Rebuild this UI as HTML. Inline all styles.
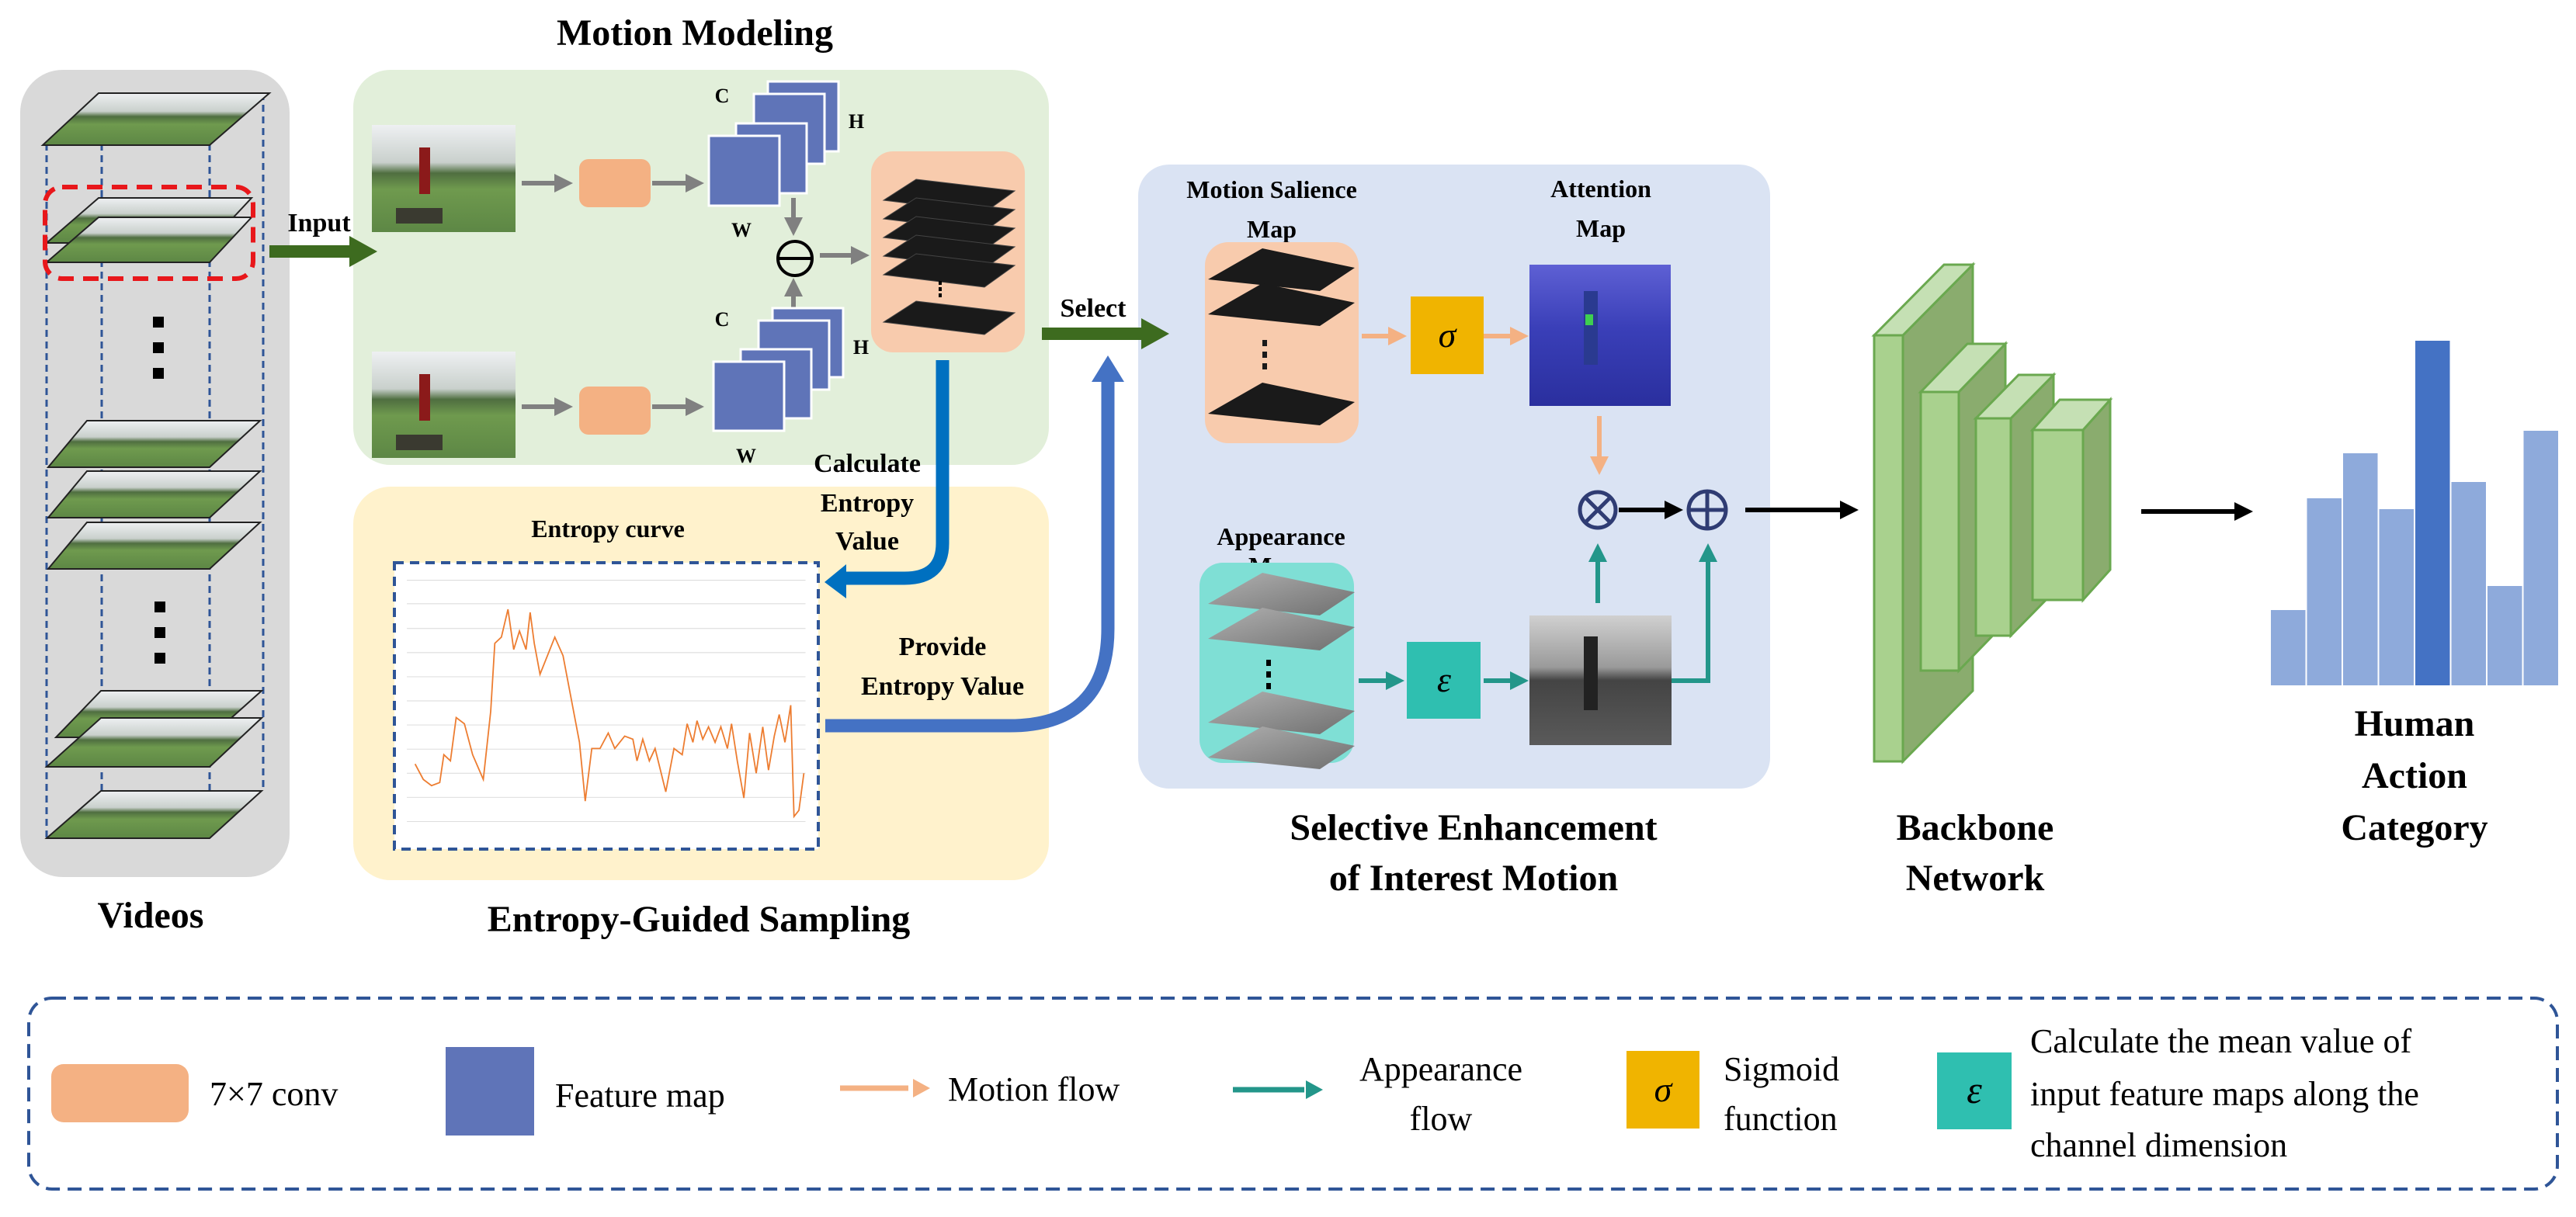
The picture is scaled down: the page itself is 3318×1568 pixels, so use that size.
<!DOCTYPE html>
<html><head><meta charset="utf-8"><style>
html,body{margin:0;padding:0;background:#fff;}
svg{display:block;}
text{font-family:"Liberation Serif",serif;}
.b{font-weight:bold;}
</style></head><body>
<svg width="3318" height="1568" viewBox="0 0 3318 1568" xmlns="http://www.w3.org/2000/svg" font-family="Liberation Serif, serif">
<defs>
<linearGradient id="golf" x1="0" y1="0" x2="0" y2="1">
<stop offset="0" stop-color="#eef0f2"/><stop offset="0.35" stop-color="#c9d0cc"/><stop offset="0.45" stop-color="#4f6e40"/><stop offset="0.6" stop-color="#6f9a4e"/><stop offset="1" stop-color="#5d8745"/></linearGradient>
<linearGradient id="att" x1="0" y1="0" x2="0" y2="1"><stop offset="0" stop-color="#5e60d4"/><stop offset="0.45" stop-color="#3a3fb8"/><stop offset="1" stop-color="#2a2f9e"/></linearGradient>
<linearGradient id="gim" x1="0" y1="0" x2="0" y2="1"><stop offset="0" stop-color="#d0d0d0"/><stop offset="0.4" stop-color="#9a9a9a"/><stop offset="0.5" stop-color="#444"/><stop offset="1" stop-color="#5a5a5a"/></linearGradient>
<linearGradient id="gpl" x1="0" y1="0" x2="1" y2="1"><stop offset="0" stop-color="#b0b0b0"/><stop offset="1" stop-color="#707070"/></linearGradient>
<marker id="ag" markerWidth="4" markerHeight="4" refX="2" refY="2" orient="auto" markerUnits="strokeWidth"><path d="M0,0 L4,2 L0,4z" fill="#808080"/></marker>
<marker id="ao" markerWidth="4" markerHeight="4" refX="2" refY="2" orient="auto" markerUnits="strokeWidth"><path d="M0,0 L4,2 L0,4z" fill="#f4b183"/></marker>
<marker id="at" markerWidth="4" markerHeight="4" refX="2" refY="2" orient="auto" markerUnits="strokeWidth"><path d="M0,0 L4,2 L0,4z" fill="#23968a"/></marker>
<marker id="ak" markerWidth="4" markerHeight="4" refX="2" refY="2" orient="auto" markerUnits="strokeWidth"><path d="M0,0 L4,2 L0,4z" fill="#000"/></marker>
</defs>

<!-- Background panels -->
<rect x="26" y="90" width="347" height="1040" rx="55" fill="#d9d9d9"/>
<rect x="455" y="90" width="896" height="509" rx="48" fill="#e2efda"/>
<rect x="455" y="627" width="896" height="507" rx="48" fill="#fff2cc"/>
<rect x="1466" y="212" width="814" height="804" rx="40" fill="#dae3f3"/>

<!-- Videos -->
<g stroke="#2f5597" stroke-width="3" stroke-dasharray="9,6">
<line x1="60" y1="185" x2="60" y2="1082"/><line x1="131" y1="185" x2="131" y2="1082"/><line x1="270" y1="185" x2="270" y2="1082"/><line x1="339" y1="120" x2="339" y2="1020"/></g>
<g stroke="#222" stroke-width="2" fill="url(#golf)">
<path d="M127,120 L347,120 L270,187 L55,187z"/>
<path d="M127,255 L324,255 L270,313 L60,313z"/>
<path d="M127,280 L324,280 L270,338 L60,338z"/>
<path d="M112,542 L335,542 L270,602 L62,602z"/>
<path d="M112,607 L335,607 L270,667 L62,667z"/>
<path d="M112,673 L335,673 L270,733 L62,733z"/>
<path d="M130,890 L337,890 L270,950 L72,950z"/>
<path d="M130,925 L337,925 L270,988 L60,988z"/>
<path d="M130,1019 L337,1019 L270,1080 L60,1080z"/>
</g>
<rect x="58" y="241" width="268" height="118" rx="22" fill="none" stroke="#e8171b" stroke-width="6" stroke-dasharray="20,12"/>
<g fill="#000"><rect x="197" y="408" width="14" height="14"/><rect x="197" y="441" width="14" height="14"/><rect x="197" y="474" width="14" height="14"/>
<rect x="199" y="775" width="14" height="14"/><rect x="199" y="808" width="14" height="14"/><rect x="199" y="841" width="14" height="14"/></g>
<text x="194" y="1195" font-size="48" class="b" text-anchor="middle">Videos</text>

<!-- Input arrow -->
<line x1="347" y1="324" x2="455" y2="324" stroke="#3d6b1f" stroke-width="16"/>
<path d="M450,304 L486,324 L450,344z" fill="#3d6b1f"/>
<text x="411" y="298" font-size="34" class="b" text-anchor="middle">Input</text>

<!-- Motion modeling -->
<text x="895" y="58" font-size="48" class="b" text-anchor="middle">Motion Modeling</text>
<rect x="479" y="161" width="185" height="138" fill="url(#golf)"/>
<rect x="479" y="453" width="185" height="137" fill="url(#golf)"/>
<rect x="540" y="190" width="14" height="60" fill="#8b1a1a"/><rect x="540" y="482" width="14" height="60" fill="#8b1a1a"/>
<rect x="510" y="268" width="60" height="20" fill="#3a3a30"/><rect x="510" y="560" width="60" height="20" fill="#3a3a30"/>
<g stroke="#808080" stroke-width="6" fill="none">
<line x1="672" y1="236" x2="726" y2="236" marker-end="url(#ag)"/>
<line x1="672" y1="524" x2="726" y2="524" marker-end="url(#ag)"/>
<line x1="840" y1="236" x2="895" y2="236" marker-end="url(#ag)"/>
<line x1="840" y1="524" x2="895" y2="524" marker-end="url(#ag)"/>
<line x1="1022" y1="255" x2="1022" y2="292" marker-end="url(#ag)"/>
<line x1="1022" y1="398" x2="1022" y2="370" marker-end="url(#ag)"/>
<line x1="1056" y1="329" x2="1108" y2="329" marker-end="url(#ag)"/>
</g>
<rect x="746" y="205" width="92" height="62" rx="12" fill="#f4b183"/>
<rect x="746" y="498" width="92" height="62" rx="12" fill="#f4b183"/>
<g fill="#5f74b8" stroke="#fff" stroke-width="3">
<rect x="989" y="105" width="91" height="90"/><rect x="971" y="121" width="91" height="90"/><rect x="948" y="159" width="91" height="90"/><rect x="913" y="175" width="91" height="90"/>
<rect x="995" y="397" width="91" height="89"/><rect x="977" y="413" width="91" height="89"/><rect x="954" y="450" width="91" height="89"/><rect x="919" y="466" width="91" height="89"/>
</g>
<g font-size="26" class="b" text-anchor="middle"><text x="930" y="132">C</text><text x="1103" y="165">H</text><text x="955" y="305">W</text>
<text x="930" y="420">C</text><text x="1109" y="456">H</text><text x="961" y="596">W</text></g>
<circle cx="1024" cy="333" r="22" fill="none" stroke="#000" stroke-width="4"/><line x1="1003" y1="333" x2="1045" y2="333" stroke="#000" stroke-width="4"/>
<rect x="1122" y="195" width="198" height="259" rx="28" fill="#f8cbad"/>
<g fill="#1a1a1a" stroke="#444" stroke-width="1">
<path d="M1180,231 L1307,246 L1268,274 L1138,258z"/><path d="M1180,255 L1307,270 L1268,298 L1138,282z"/><path d="M1180,279 L1307,294 L1268,322 L1138,306z"/><path d="M1180,303 L1307,318 L1268,346 L1138,330z"/><path d="M1180,327 L1307,342 L1268,370 L1138,354z"/>
<path d="M1180,388 L1307,403 L1268,431 L1138,415z"/></g>
<g fill="#000"><rect x="1209" y="362" width="4" height="5"/><rect x="1209" y="370" width="4" height="5"/><rect x="1209" y="378" width="4" height="5"/></g>

<!-- Entropy sampling -->
<text x="783" y="692" font-size="32" class="b" text-anchor="middle">Entropy curve</text>
<rect x="508" y="725" width="546" height="369" fill="#fff" stroke="#2f5597" stroke-width="4" stroke-dasharray="12,8"/>
<g transform="matrix(1.0587 0 0 0.797 0 0)">
<g stroke="#d8d8d8" stroke-width="1.2" vector-effect="non-scaling-stroke">
<line x1="495" y1="938" x2="980" y2="938"/><line x1="495" y1="976" x2="980" y2="976"/><line x1="495" y1="1016" x2="980" y2="1016"/><line x1="495" y1="1055" x2="980" y2="1055"/><line x1="495" y1="1094" x2="980" y2="1094"/><line x1="495" y1="1133" x2="980" y2="1133"/><line x1="495" y1="1172" x2="980" y2="1172"/><line x1="495" y1="1211" x2="980" y2="1211"/><line x1="495" y1="1250" x2="980" y2="1250"/><line x1="495" y1="1289" x2="980" y2="1289"/><line x1="495" y1="1328" x2="980" y2="1328"/></g>
<polyline fill="none" stroke="#ed7d31" stroke-width="1.8" vector-effect="non-scaling-stroke" points="505,1235 515,1260 525,1270 535,1265 540,1220 548,1230 555,1160 565,1170 575,1220 588,1260 597,1150 602,1040 610,1030 618,985 625,1050 632,1020 640,1050 645,990 650,1040 657,1090 663,1070 675,1030 685,1060 695,1130 705,1200 712,1295 720,1210 730,1210 740,1185 748,1210 760,1190 770,1195 775,1230 782,1195 790,1230 797,1210 810,1280 820,1210 830,1220 836,1170 843,1200 848,1165 855,1195 862,1175 870,1200 877,1175 885,1210 890,1170 897,1230 905,1290 912,1185 920,1250 928,1175 935,1245 942,1190 948,1155 955,1200 962,1140 966,1320 972,1310 978,1250"/>
</g>
<text x="900" y="1200" font-size="48" class="b" text-anchor="middle">Entropy-Guided Sampling</text>

<!-- Calculate entropy arrow -->
<path d="M1214,464 L1214,700 Q1214,745 1165,745 L1085,745" fill="none" stroke="#0070c0" stroke-width="17"/>
<path d="M1090,727 L1062,750 L1090,771z" fill="#0070c0"/>
<g font-size="34" class="b" text-anchor="middle"><text x="1117" y="608">Calculate</text><text x="1117" y="659">Entropy</text><text x="1117" y="708">Value</text></g>

<!-- Provide arrow -->
<path d="M1063,935 L1300,935 Q1427,935 1427,810 L1427,490" fill="none" stroke="#4472c4" stroke-width="17"/>
<path d="M1406,492 L1427,458 L1448,492z" fill="#4472c4"/>
<g font-size="34" class="b" text-anchor="middle"><text x="1214" y="844">Provide</text><text x="1214" y="895">Entropy Value</text></g>

<!-- Select arrow -->
<line x1="1342" y1="430" x2="1475" y2="430" stroke="#3d6b1f" stroke-width="16"/>
<path d="M1470,410 L1506,430 L1470,450z" fill="#3d6b1f"/>
<text x="1408" y="408" font-size="34" class="b" text-anchor="middle">Select</text>

<!-- Selective Enhancement -->
<g font-size="32" class="b" text-anchor="middle"><text x="1638" y="255">Motion Salience</text><text x="1638" y="306">Map</text>
<text x="2062" y="254">Attention</text><text x="2062" y="305">Map</text><text x="1650" y="702">Appearance</text><text x="1640" y="740">Map</text></g>
<rect x="1552" y="312" width="198" height="259" rx="30" fill="#f8cbad"/>
<g fill="#1a1a1a"><path d="M1626,320 L1745,345 L1700,375 L1556,360z"/><path d="M1626,365 L1745,390 L1700,420 L1556,405z"/><path d="M1626,493 L1745,518 L1700,548 L1556,533z"/>
<rect x="1626" y="438" width="6" height="8"/><rect x="1626" y="453" width="6" height="8"/><rect x="1626" y="468" width="6" height="8"/></g>
<rect x="1545" y="725" width="199" height="258" rx="30" fill="#7fdfd5"/>
<g fill="url(#gpl)"><path d="M1626,738 L1745,763 L1700,793 L1556,778z"/><path d="M1626,783 L1745,808 L1700,838 L1556,823z"/><path d="M1626,891 L1745,916 L1700,946 L1556,931z"/><path d="M1626,936 L1745,961 L1700,991 L1556,976z"/></g>
<g fill="#000"><rect x="1631" y="850" width="6" height="8"/><rect x="1631" y="865" width="6" height="8"/><rect x="1631" y="880" width="6" height="8"/></g>
<rect x="1817" y="382" width="94" height="100" fill="#f0b400"/>
<text x="1864" y="447" font-size="46" font-style="italic" text-anchor="middle">σ</text>
<rect x="1812" y="827" width="95" height="99" fill="#2fbfb0"/>
<text x="1860" y="891" font-size="46" font-style="italic" text-anchor="middle">ε</text>
<rect x="1970" y="341" width="182" height="182" fill="url(#att)"/>
<rect x="2040" y="375" width="18" height="95" fill="#2a3a90"/><rect x="2042" y="405" width="10" height="14" fill="#3ecf50"/>
<rect x="1970" y="793" width="183" height="167" fill="url(#gim)"/>
<rect x="2040" y="820" width="18" height="95" fill="#222"/>
<g stroke="#f4b183" stroke-width="6" fill="none">
<line x1="1754" y1="433" x2="1800" y2="433" marker-end="url(#ao)"/><line x1="1911" y1="433" x2="1957" y2="433" marker-end="url(#ao)"/>
<line x1="2060" y1="536" x2="2060" y2="600" marker-end="url(#ao)"/></g>
<g stroke="#23968a" stroke-width="6" fill="none">
<line x1="1750" y1="877" x2="1797" y2="877" marker-end="url(#at)"/><line x1="1911" y1="877" x2="1957" y2="877" marker-end="url(#at)"/>
<line x1="2058" y1="777" x2="2058" y2="712" marker-end="url(#at)"/>
<path d="M2153,877 L2200,877 L2200,712" marker-end="url(#at)"/></g>
<g stroke="#2f3c73" stroke-width="5" fill="none"><circle cx="2058" cy="657" r="23"/><line x1="2042" y1="641" x2="2074" y2="673"/><line x1="2074" y1="641" x2="2042" y2="673"/>
<circle cx="2199" cy="657" r="24"/><line x1="2175" y1="657" x2="2223" y2="657"/><line x1="2199" y1="633" x2="2199" y2="681"/></g>
<g stroke="#000" stroke-width="6" fill="none">
<line x1="2085" y1="657" x2="2156" y2="657" marker-end="url(#ak)"/>
<line x1="2248" y1="657" x2="2382" y2="657" marker-end="url(#ak)"/>
<line x1="2758" y1="659" x2="2890" y2="659" marker-end="url(#ak)"/></g>
<g font-size="48" class="b" text-anchor="middle"><text x="1898" y="1082">Selective Enhancement</text><text x="1898" y="1147">of Interest Motion</text>
<text x="2544" y="1082">Backbone</text><text x="2544" y="1147">Network</text></g>

<!-- Backbone -->
<g stroke="#6aa84f" stroke-width="3">
<path d="M2451,432 L2541,341 L2541,890 L2451,981z" fill="#8aac6e"/><path d="M2414,432 L2504,341 L2541,341 L2451,432z" fill="#c5e0b4"/><rect x="2414" y="432" width="37" height="549" fill="#a9d18e"/>
<path d="M2523,505 L2583,443 L2583,802 L2523,864z" fill="#8aac6e"/><path d="M2474,505 L2534,443 L2583,443 L2523,505z" fill="#c5e0b4"/><rect x="2474" y="505" width="49" height="359" fill="#a9d18e"/>
<path d="M2590,539 L2645,483 L2645,763 L2590,819z" fill="#8aac6e"/><path d="M2545,539 L2600,483 L2645,483 L2590,539z" fill="#c5e0b4"/><rect x="2545" y="539" width="45" height="280" fill="#a9d18e"/>
<path d="M2683,554 L2718,515 L2718,734 L2683,773z" fill="#8aac6e"/><path d="M2618,554 L2653,515 L2718,515 L2683,554z" fill="#c5e0b4"/><rect x="2618" y="554" width="65" height="219" fill="#a9d18e"/>
</g>

<!-- Histogram -->
<g stroke="#fff" stroke-width="2">
<rect x="2924" y="785" width="46.5" height="99" fill="#8eaadb"/><rect x="2970.5" y="641" width="46.5" height="243" fill="#8eaadb"/><rect x="3017" y="583" width="46.5" height="301" fill="#8eaadb"/><rect x="3063.5" y="655" width="46.5" height="229" fill="#8eaadb"/>
<rect x="3110" y="438" width="46.5" height="446" fill="#4472c4"/><rect x="3156.5" y="620" width="46.5" height="264" fill="#8eaadb"/><rect x="3203" y="754" width="46.5" height="130" fill="#8eaadb"/><rect x="3249.5" y="554" width="46.5" height="330" fill="#8eaadb"/></g>
<g font-size="48" class="b" text-anchor="middle"><text x="3110" y="948">Human</text><text x="3110" y="1015">Action</text><text x="3110" y="1082">Category</text></g>

<!-- Legend -->
<rect x="37" y="1286" width="3257" height="246" rx="30" fill="none" stroke="#2f5597" stroke-width="4" stroke-dasharray="18,10"/>
<rect x="66" y="1371" width="177" height="75" rx="16" fill="#f4b183"/>
<text x="270" y="1424" font-size="44">7×7 conv</text>
<rect x="574" y="1349" width="114" height="114" fill="#5f74b8"/>
<text x="715" y="1426" font-size="44">Feature map</text>
<line x1="1082" y1="1402" x2="1170" y2="1402" stroke="#f4b183" stroke-width="7"/><path d="M1176,1390 L1198,1402 L1176,1414z" fill="#f4b183"/>
<text x="1221" y="1418" font-size="44">Motion flow</text>
<line x1="1588" y1="1404" x2="1680" y2="1404" stroke="#23968a" stroke-width="7"/><path d="M1682,1392 L1704,1404 L1682,1416z" fill="#23968a"/>
<g font-size="44" text-anchor="middle"><text x="1856" y="1392">Appearance</text><text x="1856" y="1456">flow</text></g>
<rect x="2095" y="1354" width="94" height="100" fill="#f0b400"/>
<text x="2142" y="1419" font-size="46" font-style="italic" text-anchor="middle">σ</text>
<g font-size="44"><text x="2220" y="1392">Sigmoid</text><text x="2220" y="1456">function</text></g>
<rect x="2495" y="1356" width="96" height="99" fill="#2fbfb0"/>
<text x="2543" y="1421" font-size="50" font-style="italic" text-anchor="middle">ε</text>
<g font-size="44"><text x="2615" y="1356">Calculate the mean value of</text><text x="2615" y="1424">input feature maps along the</text><text x="2615" y="1490">channel dimension</text></g>
</svg>
</body></html>
